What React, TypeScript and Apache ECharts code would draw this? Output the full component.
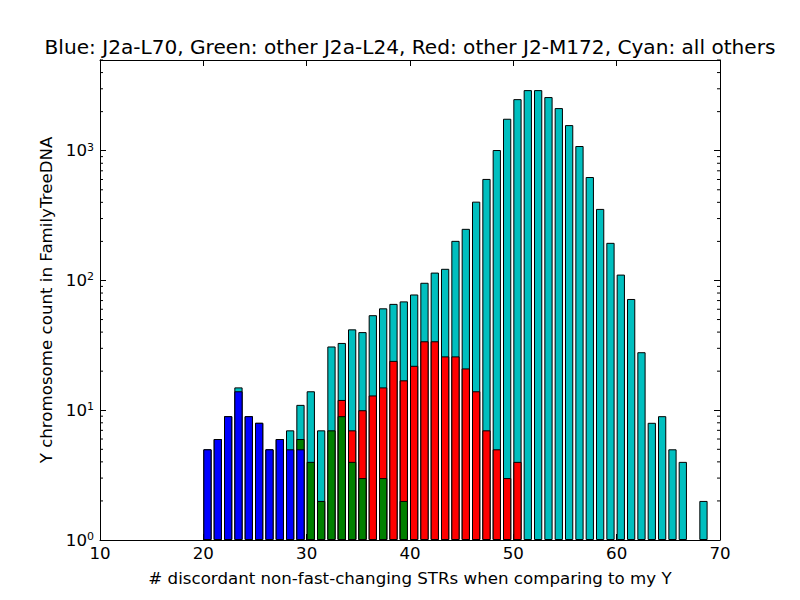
import React, { useEffect, useRef } from 'react';
import * as echarts from 'echarts';

// [number of discordant STRs, count]
const cyanBars: [number, number][] = [
  [20, 5], [21, 6], [22, 9], [23, 15], [24, 9], [25, 8], [26, 5], [27, 6], [28, 7], [29, 11],
  [30, 14], [31, 7], [32, 31], [33, 33], [34, 42], [35, 40], [36, 54], [37, 61], [38, 66], [39, 69],
  [40, 78], [41, 96], [42, 115], [43, 123], [44, 202], [45, 250], [46, 405], [47, 606], [48, 1012], [49, 1763],
  [50, 2497], [51, 2930], [52, 2930], [53, 2590], [54, 2130], [55, 1575], [56, 1087], [57, 627], [58, 356], [59, 195],
  [60, 111], [61, 72], [62, 28], [63, 8], [64, 9], [65, 5], [66, 4], [68, 2],
];
const redBars: [number, number][] = [
  [33, 12], [34, 7], [35, 10], [36, 13], [37, 15], [38, 24], [39, 17], [40, 22], [41, 34], [42, 34],
  [43, 26], [44, 26], [45, 21], [46, 14], [47, 7], [48, 5], [49, 3], [50, 4],
];
const greenBars: [number, number][] = [
  [29, 6], [30, 4], [31, 2], [32, 7], [33, 9], [34, 4], [35, 3], [37, 3], [39, 2],
];
const blueBars: [number, number][] = [
  [20, 5], [21, 6], [22, 9], [23, 14], [24, 9], [25, 8], [26, 5], [27, 6], [28, 5], [29, 5],
];
const minorTickValues = [2, 3, 4, 5, 6, 7, 8, 9, 20, 30, 40, 50, 60, 70, 80, 90, 200, 300, 400, 500, 600, 700, 800, 900, 2000, 3000, 4000, 5000];

const TITLE = 'Blue: J2a-L70, Green: other J2a-L24, Red: other J2-M172, Cyan: all others';
const X_NAME = '# discordant non-fast-changing STRs when comparing to my Y';
const Y_NAME = 'Y chromosome count in FamilyTreeDNA';

const FONT = 'DejaVu Sans';
const BAR_WIDTH_UNITS = 0.8;

export default function App() {
  const ref = useRef<HTMLDivElement>(null);
  useEffect(() => {
    if (!ref.current) return;
    const chart = echarts.init(ref.current, undefined, { renderer: 'svg' });
    const barPx = (BAR_WIDTH_UNITS * 620) / 60;
    const mk = (name: string, color: string, data: [number, number][]) => ({
      name,
      type: 'bar',
      data: data.map(([x, c]) => [x + BAR_WIDTH_UNITS / 2, c]),
      barWidth: barPx,
      barGap: '-100%',
      itemStyle: { color, borderColor: '#000', borderWidth: 1 },
      silent: true,
    });
    const axisLine = { show: true, onZero: false, lineStyle: { color: '#000', width: 1 } };
    const supFmt = (v: number) => {
      const e = Math.round(Math.log10(v));
      if (Math.abs(Math.pow(10, e) - v) > 1e-6 * v) return '';
      return '10{sup|' + e + '}';
    };
    chart.setOption({
      animation: false,
      textStyle: { fontFamily: FONT },
      grid: { left: 100, right: 80, top: 60, bottom: 60, containLabel: false },
      xAxis: [
        {
          type: 'value', min: 10, max: 70, interval: 10, position: 'bottom',
          axisLine, splitLine: { show: false },
          axisTick: { inside: true, length: 6, lineStyle: { color: '#000' } },
          axisLabel: { color: '#000', fontSize: 16.67, fontFamily: FONT, margin: 5 },
        },
        {
          type: 'value', min: 10, max: 70, interval: 10, position: 'top',
          axisLine, splitLine: { show: false },
          axisTick: { inside: true, length: 6, lineStyle: { color: '#000' } },
          axisLabel: { show: false },
        },
      ],
      yAxis: [
        {
          type: 'log', logBase: 10, min: 1, max: 5000, position: 'left',
          axisLine, splitLine: { show: false },
          axisTick: { inside: true, length: 6, lineStyle: { color: '#000' } },
          axisLabel: {
            color: '#000', fontSize: 16.67, fontFamily: FONT, margin: 6,
            formatter: supFmt,
            rich: { sup: { fontSize: 11, fontFamily: FONT, color: '#000', padding: [0, 0, 7, 0] } },
          },
        },
        {
          type: 'log', logBase: 10, min: 1, max: 5000, position: 'right',
          axisLine, splitLine: { show: false },
          axisTick: { inside: true, length: 6, lineStyle: { color: '#000' } },
          axisLabel: { show: false },
        },
      ],
      series: [
        mk('all others', '#00bfbf', cyanBars),
        mk('other J2-M172', '#ff0000', redBars),
        mk('other J2a-L24', '#008000', greenBars),
        mk('J2a-L70', '#0000ff', blueBars),
      ],
    });
    const xl = chart.convertToPixel({ xAxisIndex: 0 }, 10) as number;
    const xr = chart.convertToPixel({ xAxisIndex: 0 }, 70) as number;
    const ticks: any[] = [];
    minorTickValues.forEach((v) => {
      const y = chart.convertToPixel({ yAxisIndex: 0 }, v) as number;
      ticks.push({ type: 'line', shape: { x1: xl, y1: y, x2: xl + 3, y2: y }, style: { stroke: '#000', lineWidth: 1 }, silent: true });
      ticks.push({ type: 'line', shape: { x1: xr - 3, y1: y, x2: xr, y2: y }, style: { stroke: '#000', lineWidth: 1 }, silent: true });
    });
    const cx = (xl + xr) / 2;
    chart.setOption({
      graphic: [
        ...ticks,
        { type: 'text', x: cx, y: 47, style: { text: TITLE, fontSize: 20.1, fontFamily: FONT, fill: '#000', textAlign: 'center', textVerticalAlign: 'middle' } },
        { type: 'text', x: cx, y: 578, style: { text: X_NAME, fontSize: 16.67, fontFamily: FONT, fill: '#000', textAlign: 'center', textVerticalAlign: 'middle' } },
        { type: 'text', x: 46, y: 300, rotation: Math.PI / 2, style: { text: Y_NAME, fontSize: 16.67, fontFamily: FONT, fill: '#000', textAlign: 'center', textVerticalAlign: 'middle' } },
      ],
    });
    return () => chart.dispose();
  }, []);
  return <div ref={ref} style={{ position: 'fixed', left: 0, top: 0, width: 800, height: 600, background: '#fff' }} />;
}
